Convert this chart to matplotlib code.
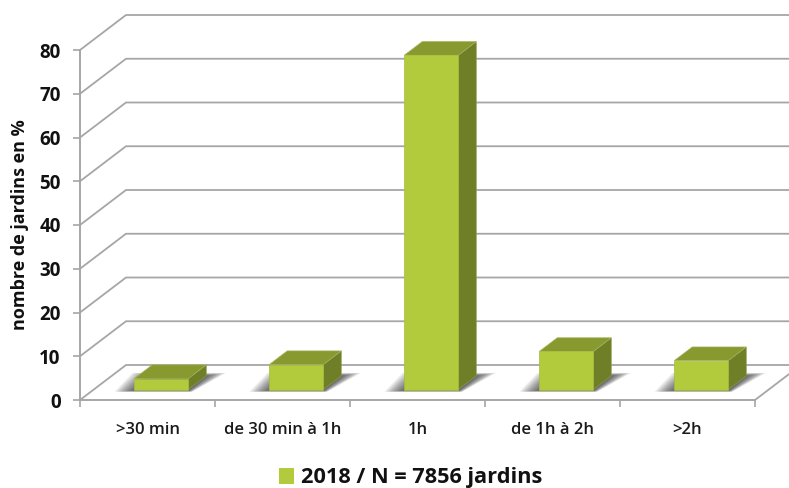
import numpy as np
import matplotlib.pyplot as plt
from matplotlib.patches import Polygon, Patch

categories = [">30 min", "de 30 min à 1h", "1h", "de 1h à 2h", ">2h"]
values = [2.5, 5.7, 76.4, 8.7, 6.6]
y_ticks = [0, 10, 20, 30, 40, 50, 60, 70, 80]
legend_label = "2018 / N = 7856 jardins"
y_label = "nombre de jardins en %"

W, H = 789, 488
GRID = "#a6a6a6"
FRONT = "#b2cb3c"
TOP = "#87992f"
SIDE = "#6f7f27"

# depth of the 3d box, in data units (x = categories, y = percent)
DX = 46 / 135
DY = 8.0
bar_w = 0.4


def proj(x, v, d):
    # move a point back into the chart, d = 0 front, d = 1 back wall
    return (x + d * DX, v + d * DY)


fig = plt.figure(figsize=(W / 100, H / 100), dpi=100)
ax = fig.add_axes([80 / W, (H - 400) / H, 675 / W, 350 / H])
ax.set_xlim(0, 5)
ax.set_ylim(0, 80)
ax.patch.set_alpha(0)

for s in ["top", "right"]:
    ax.spines[s].set_visible(False)
for s in ["left", "bottom"]:
    ax.spines[s].set_color(GRID)
    ax.spines[s].set_linewidth(1.4)

# walls and floor
for v in y_ticks:
    xs = [0, DX, 5 + DX + 1]
    ys = [v, v + DY, v + DY]
    ax.plot(xs, ys, color=GRID, lw=1.3, clip_on=False, zorder=1)
ax.plot([5, 5 + DX], [0, DY], color=GRID, lw=1.3, clip_on=False, zorder=1)

for i, val in enumerate(values):
    x0 = i + 0.5 - bar_w / 2 + 0.3 * DX
    x1 = x0 + bar_w
    base = 0.3 * DY
    d = 0.39

    # soft shadow on the floor, stacked see-through layers
    n = 40
    for k in range(n):
        f = 1 - k / n
        e = 0.15 * f
        ey = 0.7 * f
        pts = [(x0 - e, base - 0.3 - ey * 0.3),
               (x1 + e * 0.2, base - 0.3 - ey * 0.3),
               (x1 + d * DX + e, base + d * DY + ey),
               (x0 + d * DX - e, base + d * DY + ey)]
        ax.add_patch(Polygon(pts, closed=True, fc="#202020", ec="none",
                             alpha=0.024, clip_on=False, zorder=2))

    top = base + val
    side_pts = [(x1, base), proj(x1, base, d), proj(x1, top, d), (x1, top)]
    top_pts = [(x0, top), (x1, top), proj(x1, top, d), proj(x0, top, d)]
    front_pts = [(x0, base), (x1, base), (x1, top), (x0, top)]
    ax.add_patch(Polygon(side_pts, closed=True, fc=SIDE, ec="#8a9a45", lw=0.5,
                         clip_on=False, zorder=3))
    ax.add_patch(Polygon(top_pts, closed=True, fc=TOP, ec="#a3b35a", lw=0.5,
                         clip_on=False, zorder=3))
    ax.add_patch(Polygon(front_pts, closed=True, fc=FRONT, ec="#a4bd38", lw=0.5,
                         clip_on=False, zorder=4))

# ticks
ax.set_yticks(y_ticks)
ax.set_yticklabels([str(v) for v in y_ticks], fontsize=13.5, fontweight="bold",
                   family="Open Sans", color="#111111")
ax.tick_params(axis="y", color=GRID, length=5, width=1.2, pad=9)
ax.set_xticks(np.arange(0, 6))
ax.set_xticklabels([])
ax.tick_params(axis="x", which="major", color=GRID, length=5, width=1.2)
ax.set_xticks(np.arange(len(categories)) + 0.5, minor=True)
ax.set_xticklabels(categories, minor=True, fontsize=12, fontweight="semibold",
                   family="Open Sans", color="#1a1a1a")
ax.tick_params(axis="x", which="minor", length=0, pad=16)

fig.text(20 / W, 1 - 225 / H, y_label, rotation=90, ha="center", va="center",
         fontsize=13, fontweight="bold", family="Open Sans", color="#111111")

leg = fig.legend(handles=[Patch(fc=FRONT, ec="none", label=legend_label)],
                 loc="center", bbox_to_anchor=(410.5 / W, 1 - 478 / H),
                 frameon=False, handlelength=0.72, handleheight=0.72,
                 handletextpad=0.3, borderpad=0, borderaxespad=0,
                 prop={"family": "Open Sans", "weight": "bold", "size": 15.7})
for t in leg.get_texts():
    t.set_color("#111111")

fig.savefig("out.png", dpi=100, facecolor="white")
